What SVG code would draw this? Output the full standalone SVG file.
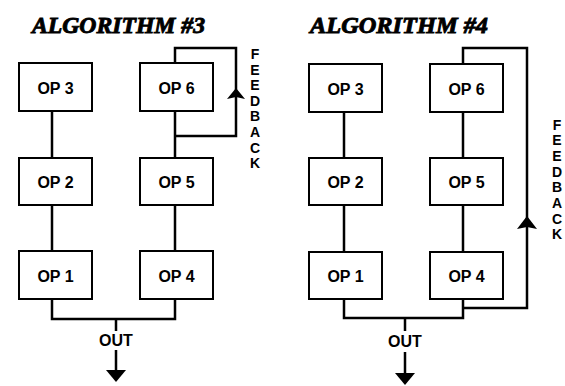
<svg xmlns="http://www.w3.org/2000/svg" width="565" height="386" viewBox="0 0 565 386">
<style>
.box{fill:#fff;stroke:#000;stroke-width:2}
.lbl{font-family:"Liberation Sans",Arial,sans-serif;font-weight:bold;font-size:16px;text-anchor:middle}
.fb{font-family:"Liberation Sans",Arial,sans-serif;font-weight:bold;font-size:14px;text-anchor:middle}
.title{font-family:"Liberation Serif","Times New Roman",serif;font-weight:bold;font-style:italic;font-size:23px;stroke:#000;stroke-width:0.9}
.wire{fill:none;stroke:#000;stroke-width:2.5}
.head{fill:#000}
</style>
<rect width="565" height="386" fill="#fff"/>
<text class="title" x="32" y="33" textLength="173" lengthAdjust="spacingAndGlyphs">ALGORITHM #3</text>
<text class="title" x="310" y="33" textLength="178" lengthAdjust="spacingAndGlyphs">ALGORITHM #4</text>
<g id="connectors">
<path class="wire" d="M52,111V158M52,205V251M175,111V158M175,205V251"/>
<path class="wire" d="M175,63V48H236V136H175"/>
<path class="wire" d="M52,299V319H175V299M116,319V331M116,350V372"/>
<polygon class="head" points="236,88 245,99 236,97 227,99"/>
<polygon class="head" points="116,382 106,370 126,370"/>
<path class="wire" d="M344,112V158M344,205V252M463,112V158M463,205V252"/>
<path class="wire" d="M463,64V48H527V308H463"/>
<path class="wire" d="M344,299V318H463V299M405,318V331M405,352V374"/>
<polygon class="head" points="527,216 537,229 527,227 517,229"/>
<polygon class="head" points="405,385 395,373 415,373"/>
</g>
<g id="fb3" class="fb">
<text x="255" y="59">F</text><text x="255" y="74.6">E</text><text x="255" y="90.2">E</text><text x="255" y="105.8">D</text><text x="255" y="121.4">B</text><text x="255" y="137">A</text><text x="255" y="152.6">C</text><text x="255" y="168.2">K</text>
</g>
<g id="fb4" class="fb">
<text x="557" y="129.5">F</text><text x="557" y="145.2">E</text><text x="557" y="160.9">E</text><text x="557" y="176.6">D</text><text x="557" y="192.3">B</text><text x="557" y="208">A</text><text x="557" y="223.7">C</text><text x="557" y="239.4">K</text>
</g>
<g id="a3op3"><rect class="box" x="19" y="63" width="73" height="48"/><text class="lbl" x="55.5" y="94">OP 3</text></g>
<g id="a3op2"><rect class="box" x="19" y="158" width="73" height="47"/><text class="lbl" x="55.5" y="188">OP 2</text></g>
<g id="a3op1"><rect class="box" x="19" y="251" width="73" height="48"/><text class="lbl" x="55.5" y="282">OP 1</text></g>
<g id="a3op6"><rect class="box" x="140" y="63" width="73" height="48"/><text class="lbl" x="176.5" y="94">OP 6</text></g>
<g id="a3op5"><rect class="box" x="140" y="158" width="73" height="47"/><text class="lbl" x="176.5" y="188">OP 5</text></g>
<g id="a3op4"><rect class="box" x="140" y="251" width="73" height="48"/><text class="lbl" x="176.5" y="282">OP 4</text></g>
<g id="a4op3"><rect class="box" x="309" y="64" width="73" height="48"/><text class="lbl" x="345.5" y="95">OP 3</text></g>
<g id="a4op2"><rect class="box" x="309" y="158" width="73" height="47"/><text class="lbl" x="345.5" y="188">OP 2</text></g>
<g id="a4op1"><rect class="box" x="309" y="252" width="73" height="47"/><text class="lbl" x="345.5" y="282">OP 1</text></g>
<g id="a4op6"><rect class="box" x="430" y="64" width="73" height="48"/><text class="lbl" x="466.5" y="95">OP 6</text></g>
<g id="a4op5"><rect class="box" x="430" y="158" width="73" height="47"/><text class="lbl" x="466.5" y="188">OP 5</text></g>
<g id="a4op4"><rect class="box" x="430" y="252" width="73" height="47"/><text class="lbl" x="466.5" y="282">OP 4</text></g>
<text class="lbl" x="116" y="346">OUT</text>
<text class="lbl" x="405" y="347">OUT</text>
</svg>
